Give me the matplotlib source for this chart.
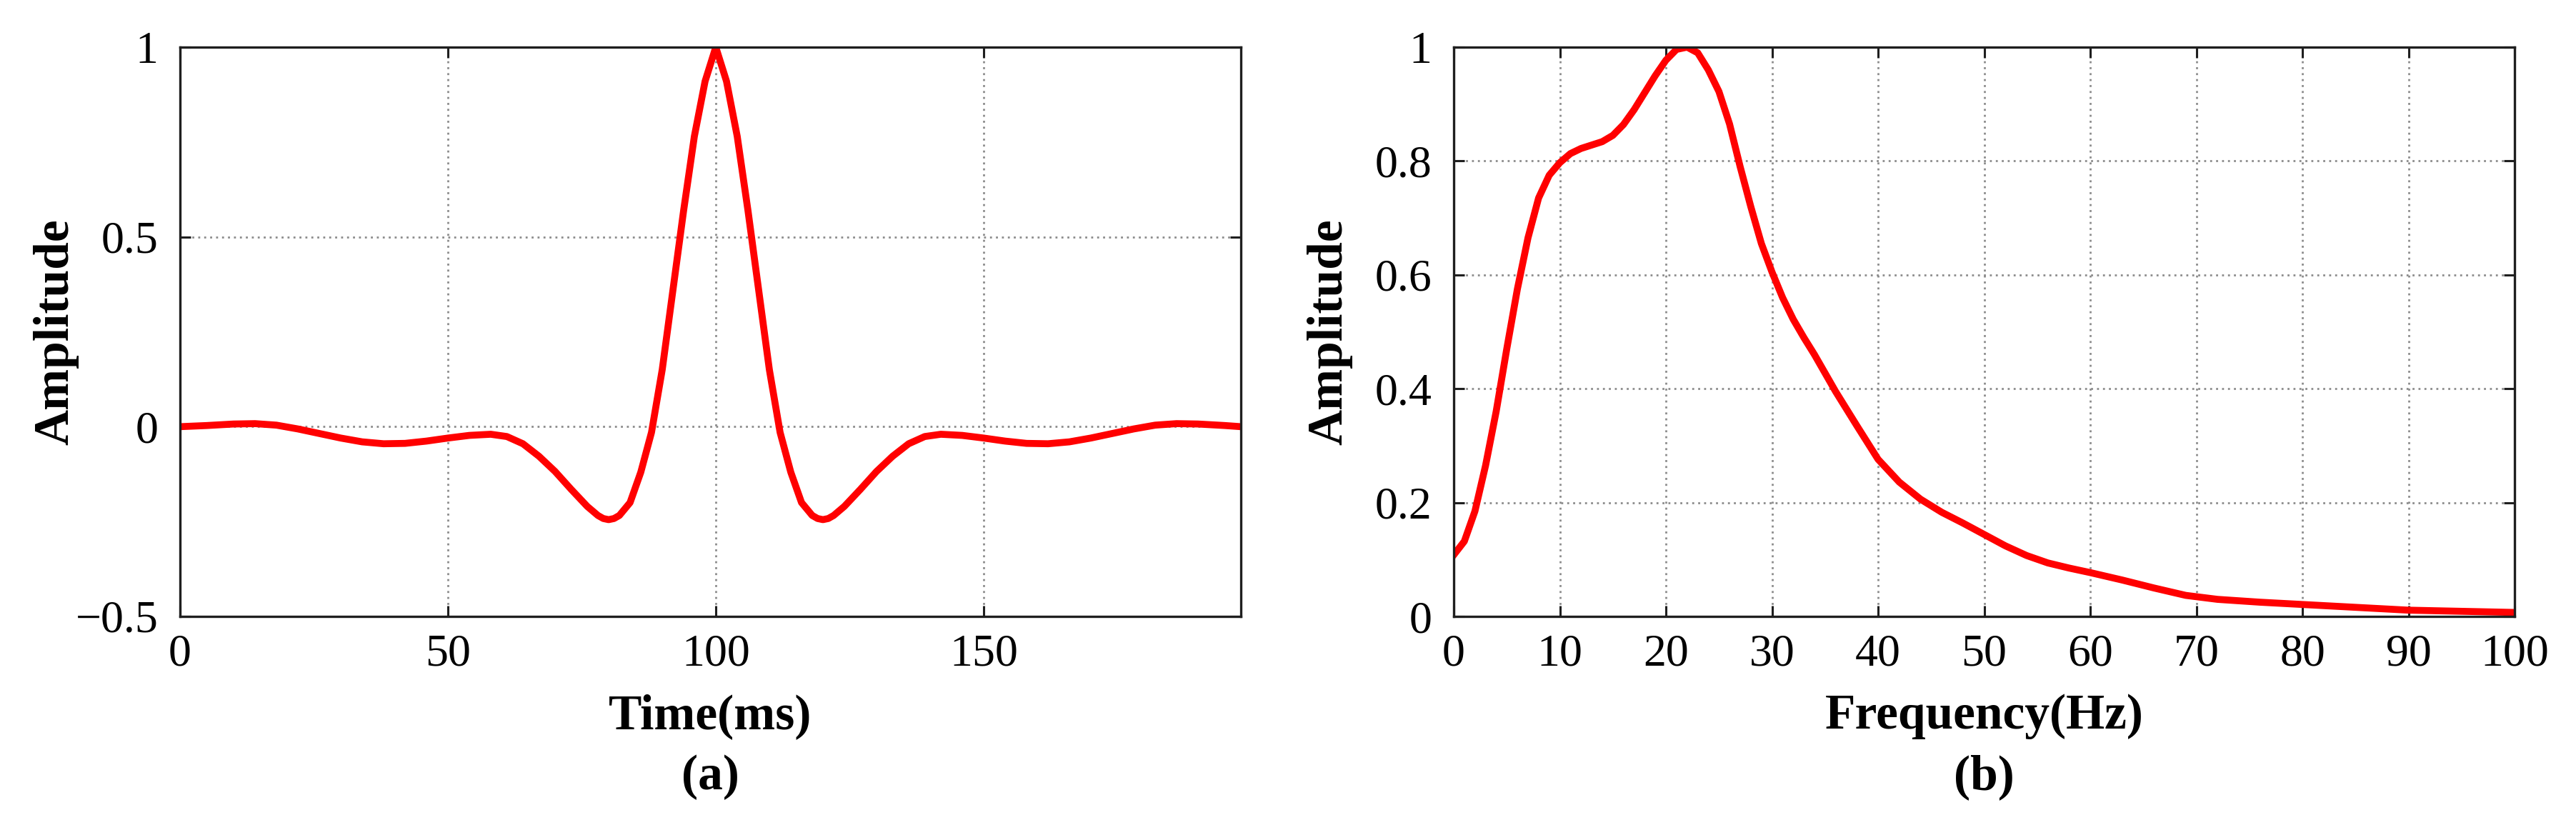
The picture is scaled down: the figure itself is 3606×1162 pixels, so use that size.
import matplotlib
matplotlib.use("Agg")
import matplotlib.pyplot as plt

# wavelet in time domain (ms, amplitude)
time_ms = [0, 5, 10, 14, 18, 22, 26, 30, 34, 38, 42, 46, 50, 54, 58, 61, 64, 67, 70,
           73, 76, 78, 79, 80, 81, 82, 84, 86, 88, 90, 92, 94, 96, 98, 100,
           102, 104, 106, 108, 110, 112, 114, 116, 118, 119, 120, 121, 122, 124, 127,
           130, 133, 136, 139, 142, 146, 150, 154, 158, 162, 166, 170, 174, 178, 182,
           186, 190, 195, 198]
wave_amp = [0.0, 0.003, 0.007, 0.008, 0.004, -0.006, -0.018, -0.030, -0.040, -0.045,
            -0.044, -0.038, -0.030, -0.023, -0.020, -0.026, -0.045, -0.078, -0.118,
            -0.165, -0.210, -0.234, -0.242, -0.245, -0.242, -0.234, -0.200, -0.120,
            -0.015, 0.150, 0.360, 0.570, 0.765, 0.910, 1.0,
            0.910, 0.765, 0.570, 0.360, 0.150, -0.015, -0.120, -0.200, -0.234, -0.242,
            -0.245, -0.242, -0.234, -0.210, -0.165, -0.118, -0.078, -0.045, -0.026,
            -0.020, -0.023, -0.030, -0.038, -0.044, -0.045, -0.040, -0.030, -0.018,
            -0.006, 0.004, 0.008, 0.007, 0.003, 0.0]

# amplitude spectrum (Hz, normalised amplitude)
freq_hz = [0, 1, 2, 3, 4, 5, 6, 7, 8, 9, 10, 11, 12, 13, 14, 15, 16, 17, 18, 19, 20,
           21, 22, 23, 24, 25, 26, 27, 28, 29, 30, 31, 32, 33, 34, 36, 38, 40, 42, 44,
           46, 48, 50, 52, 54, 56, 58, 60, 63, 66, 69, 72, 76, 80, 85, 90, 95, 100]
spec_amp = [0.108, 0.132, 0.185, 0.265, 0.360, 0.470, 0.575, 0.665, 0.735, 0.775,
            0.797, 0.813, 0.822, 0.828, 0.834, 0.845, 0.864, 0.890, 0.920, 0.950,
            0.977, 0.996, 1.0, 0.990, 0.960, 0.922, 0.865, 0.790, 0.720, 0.655,
            0.605, 0.560, 0.522, 0.490, 0.460, 0.395, 0.335, 0.276, 0.236, 0.206,
            0.183, 0.164, 0.144, 0.124, 0.107, 0.094, 0.085, 0.077, 0.064, 0.050,
            0.037, 0.030, 0.025, 0.021, 0.016, 0.011, 0.009, 0.007]

plt.rcParams['font.family'] = ['Liberation Serif', 'DejaVu Serif']
plt.rcParams['axes.unicode_minus'] = True

fig = plt.figure(figsize=(36.06, 11.62), dpi=100)
W, H = 3606., 1162.
ax1 = fig.add_axes([252 / W, (H - 863) / H, 1485 / W, 797 / H])
ax2 = fig.add_axes([2035 / W, (H - 863) / H, 1485 / W, 797 / H])


def style(ax):
    ax.grid(True, color='0.55', linestyle=(0, (1, 2)), linewidth=2)
    ax.set_axisbelow(True)
    for s in ax.spines.values():
        s.set_linewidth(2.4)
        s.set_color('0.12')
    ax.tick_params(direction='in', length=11, width=2.2, color='0.12',
                   top=True, right=True, labelsize=46)
    ax.tick_params(axis='x', pad=18)
    ax.tick_params(axis='y', pad=22)


ax1.plot(time_ms, wave_amp, color='#ff0000', linewidth=7, solid_joinstyle='round')
ax1.set_xlim(0, 198)
ax1.set_ylim(-0.5, 1)
ax1.set_xticks([0, 50, 100, 150])
ax1.set_yticks([-0.5, 0, 0.5, 1])
ax1.set_yticklabels(['\u22120.5', '0', '0.5', '1'])
style(ax1)

ax2.plot(freq_hz, spec_amp, color='#ff0000', linewidth=7, solid_joinstyle='round')
ax2.set_xlim(0, 100)
ax2.set_ylim(0, 1)
ax2.set_xticks(range(0, 101, 10))
ax2.set_yticks([0, 0.2, 0.4, 0.6, 0.8, 1])
ax2.set_yticklabels(['0', '0.2', '0.4', '0.6', '0.8', '1'])
style(ax2)

for ax, xl, tag in [(ax1, 'Time(ms)', '(a)'), (ax2, 'Frequency(Hz)', '(b)')]:
    ax.set_xlabel(xl, fontsize=50, fontweight='bold')
    ax.set_ylabel('Amplitude', fontsize=50, fontweight='bold')
    ax.xaxis.set_label_coords(0.5, -0.1355)
    ax.yaxis.set_label_coords(-0.0956, 0.5)
    ax.text(0.5, -(1088 - 863) / 797., tag, transform=ax.transAxes,
            fontsize=50, fontweight='bold', ha='center', va='center')

fig.savefig('out.png', dpi=100)
